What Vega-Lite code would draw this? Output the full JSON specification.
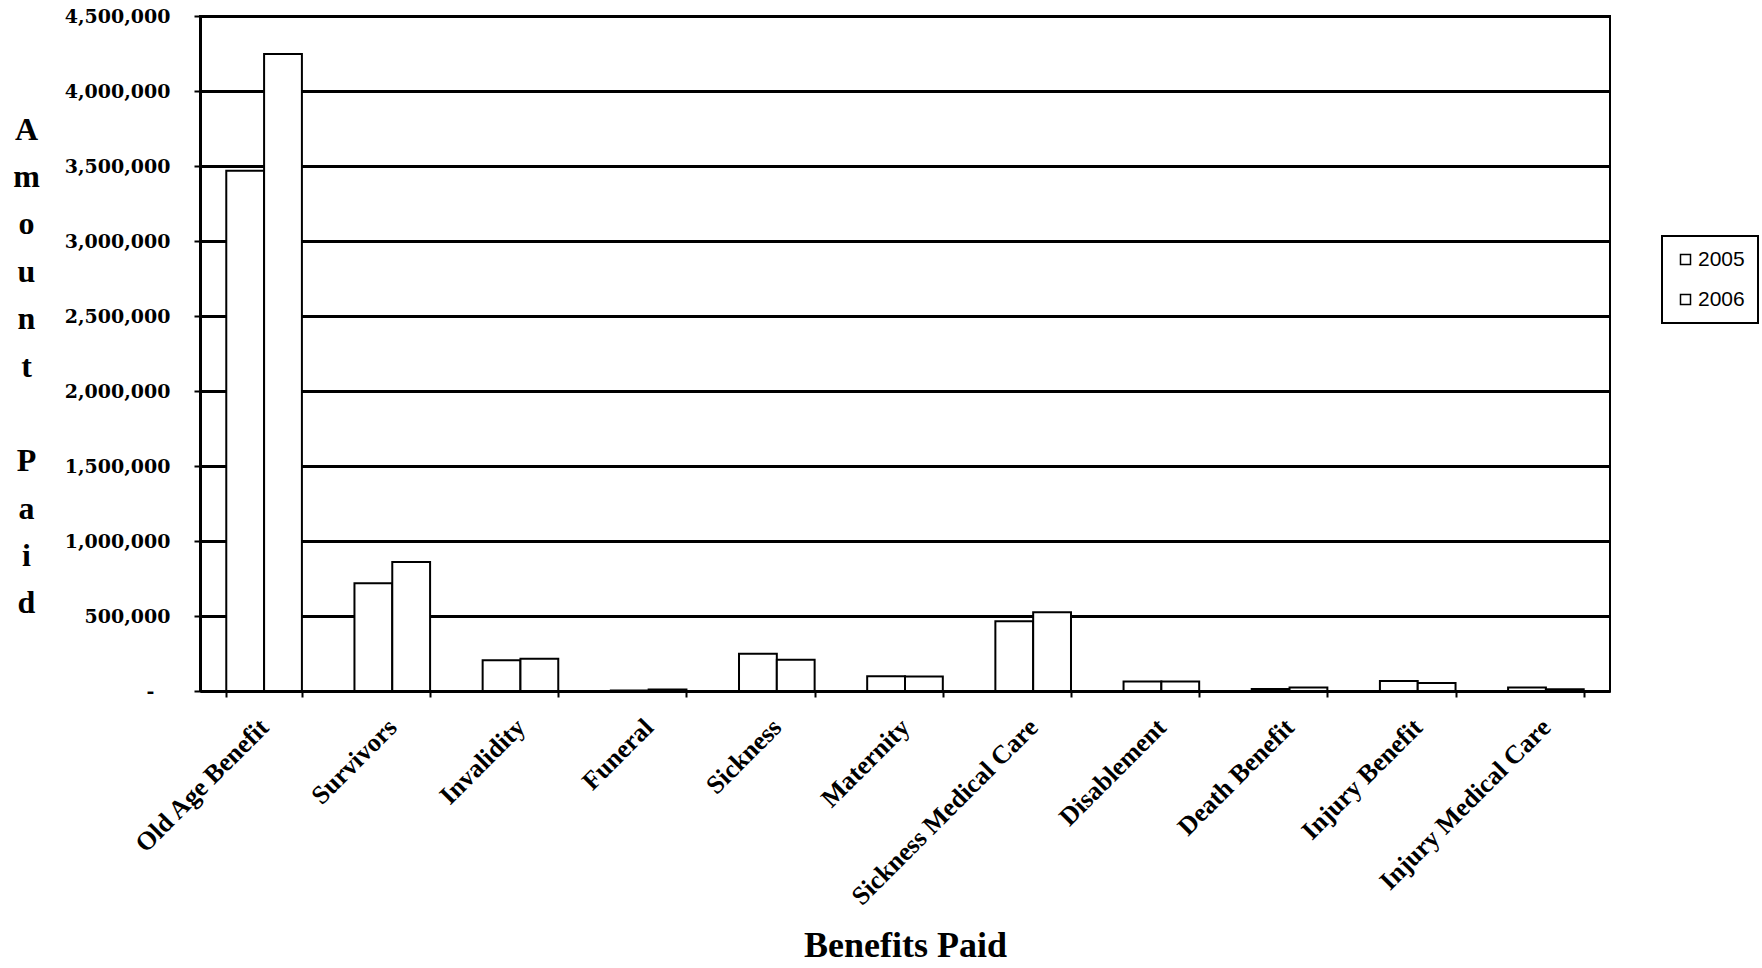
{
  "$schema": "https://vega.github.io/schema/vega-lite/v6.json",
  "width": 1410,
  "height": 675,
  "autosize": {"type": "none"},
  "padding": {"left": 200, "top": 16, "right": 152, "bottom": 277},
  "background": "white",
  "config": {"view": {"stroke": "black", "strokeWidth": 2}, "font": "Liberation Serif"},
  "data": {
    "values": [
      {"benefit": "Old Age Benefit", "year": "2005", "amount": 3468000},
      {"benefit": "Old Age Benefit", "year": "2006", "amount": 4246000},
      {"benefit": "Survivors", "year": "2005", "amount": 718000},
      {"benefit": "Survivors", "year": "2006", "amount": 860000},
      {"benefit": "Invalidity", "year": "2005", "amount": 205000},
      {"benefit": "Invalidity", "year": "2006", "amount": 215000},
      {"benefit": "Funeral", "year": "2005", "amount": 3000},
      {"benefit": "Funeral", "year": "2006", "amount": 10000},
      {"benefit": "Sickness", "year": "2005", "amount": 249000},
      {"benefit": "Sickness", "year": "2006", "amount": 209000},
      {"benefit": "Maternity", "year": "2005", "amount": 99000},
      {"benefit": "Maternity", "year": "2006", "amount": 97000},
      {"benefit": "Sickness Medical Care", "year": "2005", "amount": 465000},
      {"benefit": "Sickness Medical Care", "year": "2006", "amount": 525000},
      {"benefit": "Disablement", "year": "2005", "amount": 63000},
      {"benefit": "Disablement", "year": "2006", "amount": 64000},
      {"benefit": "Death Benefit", "year": "2005", "amount": 13000},
      {"benefit": "Death Benefit", "year": "2006", "amount": 24000},
      {"benefit": "Injury Benefit", "year": "2005", "amount": 67000},
      {"benefit": "Injury Benefit", "year": "2006", "amount": 54000},
      {"benefit": "Injury Medical Care", "year": "2005", "amount": 24000},
      {"benefit": "Injury Medical Care", "year": "2006", "amount": 11000}
    ]
  },
  "mark": {"type": "bar", "stroke": "black", "strokeWidth": 2},
  "encoding": {
    "x": {
      "field": "benefit",
      "type": "nominal",
      "sort": null,
      "scale": {"paddingInner": 0.41, "paddingOuter": 0.205},
      "axis": {
        "title": "Benefits Paid",
        "titleFont": "Liberation Serif",
        "titleFontSize": 36,
        "titleFontWeight": "bold",
        "titleColor": "black",
        "titleY": 254,
        "titleBaseline": "middle",
        "labelAngle": -45,
        "labelAlign": "right",
        "labelBaseline": "middle",
        "labelFont": "Liberation Serif",
        "labelFontWeight": "bold",
        "labelFontSize": 26,
        "labelColor": "black",
        "labelPadding": 26,
        "labelLimit": 500,
        "tickBand": "extent",
        "ticks": true,
        "tickColor": "black",
        "tickSize": 6,
        "tickWidth": 2,
        "domainColor": "black",
        "domainWidth": 3,
        "grid": false
      }
    },
    "xOffset": {"field": "year", "type": "nominal"},
    "y": {
      "field": "amount",
      "type": "quantitative",
      "scale": {"domain": [0, 4500000], "nice": false},
      "axis": {
        "title": ["A", "m", "o", "u", "n", "t", "\u200b", "P", "a", "i", "d"],
        "titleAngle": 0,
        "titleX": -174,
        "titleY": 113,
        "titleAlign": "center",
        "titleBaseline": "middle",
        "titleFont": "Liberation Serif",
        "titleFontSize": 32,
        "titleFontWeight": "bold",
        "titleLineHeight": 47.4,
        "titleColor": "black",
        "values": [0, 500000, 1000000, 1500000, 2000000, 2500000, 3000000, 3500000, 4000000, 4500000],
        "labelExpr": "datum.value == 0 ? '-' : format(datum.value, ',')",
        "labelFont": "DejaVu Serif",
        "labelFontWeight": "bold",
        "labelFontSize": 19,
        "labelColor": "black",
        "labelPadding": {"condition": {"test": "datum.value == 0", "value": 40}, "value": 24},
        "tickColor": "black",
        "tickSize": 6,
        "tickWidth": 2,
        "domainColor": "black",
        "domainWidth": 3,
        "grid": true,
        "gridColor": "black",
        "gridWidth": 3,
        "gridOpacity": 1
      }
    },
    "fill": {
      "field": "year",
      "type": "nominal",
      "scale": {"range": ["white", "white"]},
      "legend": {
        "title": null,
        "orient": "none",
        "legendX": 1462,
        "legendY": 220,
        "strokeColor": "black",
        "fillColor": "white",
        "padding": 13,
        "symbolType": "square",
        "symbolSize": 100,
        "symbolStrokeColor": "black",
        "symbolStrokeWidth": 1.5,
        "symbolFillColor": "white",
        "labelFont": "Liberation Sans",
        "labelFontSize": 21,
        "labelOffset": 2,
        "labelColor": "black",
        "rowPadding": 18,
        "encode": {"legend": {"update": {"strokeWidth": {"value": 2}}}}
      }
    }
  }
}
